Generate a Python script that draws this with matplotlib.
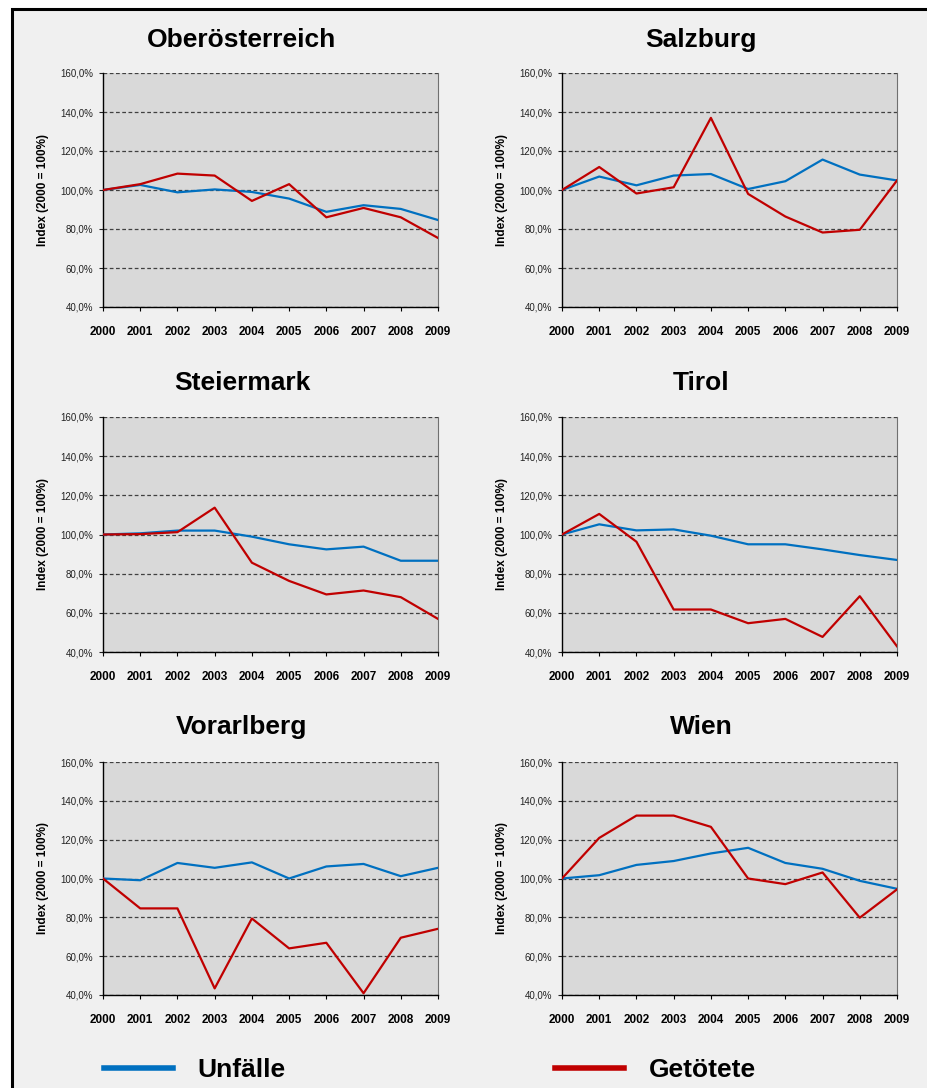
import matplotlib
matplotlib.use("Agg")
import matplotlib.pyplot as plt
from matplotlib.lines import Line2D
from matplotlib.patches import Rectangle
from matplotlib.ticker import FuncFormatter

plt.rcParams['font.family'] = ['Liberation Sans', 'DejaVu Sans']

# Daten (Index 2000 = 100%)
jahre = ['2000', '2001', '2002', '2003', '2004', '2005', '2006', '2007', '2008', '2009']
laender = ['Oberösterreich', 'Salzburg', 'Steiermark', 'Tirol', 'Vorarlberg', 'Wien']

unfaelle_ooe = [100, 102.6, 98.8, 100.3, 99.0, 95.6, 88.8, 92.2, 90.3, 84.6]
getoetete_ooe = [100, 103.0, 108.4, 107.4, 94.4, 103.0, 86.0, 90.8, 86.0, 75.4]

unfaelle_sbg = [100, 106.9, 102.4, 107.4, 108.2, 100.5, 104.5, 115.6, 107.9, 104.9]
getoetete_sbg = [100, 111.8, 98.2, 101.4, 137.0, 98.0, 86.4, 78.2, 79.6, 104.9]

unfaelle_stmk = [100, 100.6, 102.0, 102.0, 98.9, 95.0, 92.4, 93.8, 86.6, 86.6]
getoetete_stmk = [100, 100.2, 101.2, 113.7, 85.6, 76.3, 69.4, 71.4, 68.0, 56.9]

unfaelle_tirol = [100, 105.2, 102.1, 102.6, 99.4, 95.0, 95.0, 92.4, 89.5, 87.0]
getoetete_tirol = [100, 110.5, 96.3, 61.7, 61.7, 54.7, 56.9, 47.7, 68.5, 42.9]

unfaelle_vbg = [100, 99.1, 108.0, 105.5, 108.3, 100.0, 106.2, 107.5, 101.2, 105.5]
getoetete_vbg = [100, 84.6, 84.6, 43.4, 79.4, 64.0, 66.9, 40.9, 69.5, 74.1]

unfaelle_wien = [100, 101.7, 107.0, 109.0, 112.9, 115.8, 108.0, 105.0, 98.8, 94.7]
getoetete_wien = [100, 120.9, 132.4, 132.4, 126.6, 100.0, 97.1, 103.1, 79.8, 94.4]

unfaelle = [unfaelle_ooe, unfaelle_sbg, unfaelle_stmk, unfaelle_tirol, unfaelle_vbg, unfaelle_wien]
getoetete = [getoetete_ooe, getoetete_sbg, getoetete_stmk, getoetete_tirol, getoetete_vbg, getoetete_wien]

BLAU = '#0070C0'
ROT = '#C00000'

W, H = 928, 1088
fig = plt.figure(figsize=(W / 100, H / 100), dpi=100, facecolor='white')

# Rahmen / Hintergrund (nur links und oben sichtbar)
fig.add_artist(Rectangle((12 / W, -0.2), 1.5, 1.2 - 9 / H, transform=fig.transFigure,
                         facecolor='#f0f0f0', edgecolor='black', linewidth=2.2, zorder=-10))

# Positionen der Diagramme (Pixel)
spalten_x = [103, 562]
zeilen_y = [(73, 307), (417, 652), (762, 995)]
titel_x = [242, 701]
titel_y = [40, 383, 727]

x = list(range(len(jahre)))

for i, land in enumerate(laender):
    zeile, spalte = divmod(i, 2)
    top, bottom = zeilen_y[zeile]
    left = spalten_x[spalte]
    ax = fig.add_axes([left / W, 1 - bottom / H, 335 / W, (bottom - top) / H])
    ax.set_facecolor('#d9d9d9')

    ax.plot(x, unfaelle[i], color=BLAU, lw=1.6, zorder=3)
    ax.plot(x, getoetete[i], color=ROT, lw=1.6, zorder=3)

    ax.set_xlim(0, len(jahre) - 1)
    ax.set_ylim(40, 160)
    ax.set_yticks(range(40, 161, 20))
    ax.yaxis.set_major_formatter(FuncFormatter(lambda v, p: f"{v:.1f}%".replace('.', ',')))
    ax.set_xticks(x)
    ax.set_xticklabels(jahre, fontsize=8.5, fontweight='bold')
    ax.tick_params(axis='y', labelsize=7, length=3, width=0.8, pad=4, colors='#222222')
    ax.tick_params(axis='x', length=3, width=0.8, pad=11)
    ax.grid(axis='y', linestyle=(0, (3, 2)), color='#404040', lw=0.9, zorder=1)
    ax.set_axisbelow(True)

    ax.spines['top'].set_visible(False)
    ax.spines['right'].set_color('#707070')
    ax.spines['left'].set_linewidth(1.0)
    ax.spines['bottom'].set_linewidth(1.0)

    ax.set_ylabel('Index (2000 = 100%)', fontsize=8.5, fontweight='bold', labelpad=8)

    fig.text(titel_x[spalte] / W, 1 - titel_y[zeile] / H, land, fontsize=19,
             fontweight='bold', ha='center', va='center')

# Legende
handles = [Line2D([], [], color=BLAU, lw=4), Line2D([], [], color=ROT, lw=4)]
fig.legend(handles, ['Unfälle', 'Getötete'], loc='center left',
           bbox_to_anchor=(104 / W, 1 - 1070 / H), ncol=2, frameon=False,
           prop={'size': 19, 'weight': 'bold'}, handlelength=2.6, handletextpad=0.95,
           columnspacing=10.2, borderpad=0, borderaxespad=0)

fig.savefig('out.png', dpi=100, facecolor=fig.get_facecolor())
